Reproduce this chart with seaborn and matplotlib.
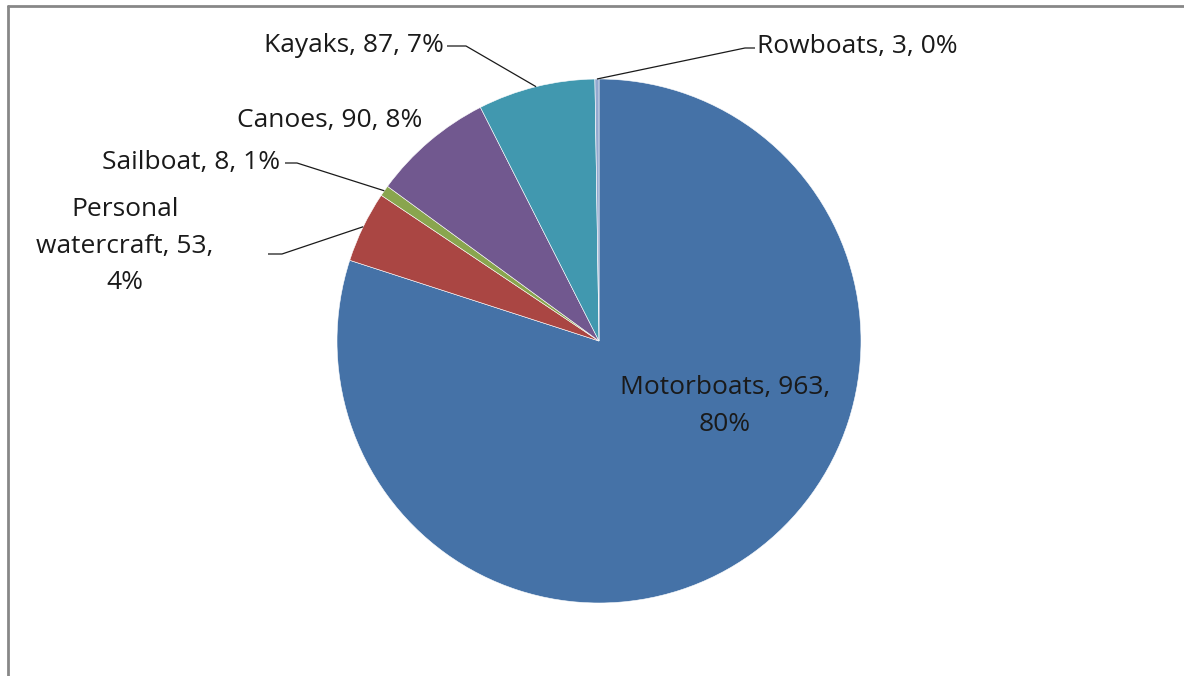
import numpy as np
import matplotlib
matplotlib.use("Agg")
import matplotlib.pyplot as plt
import seaborn as sns
from matplotlib.lines import Line2D

# Boat registrations by type
categories = ["Motorboats", "Personal watercraft", "Sailboat", "Canoes", "Kayaks", "Rowboats"]
counts = [963, 53, 8, 90, 87, 3]
label_texts = [
    "Motorboats, 963,\n80%",
    "Personal\nwatercraft, 53,\n4%",
    "Sailboat, 8, 1%",
    "Canoes, 90, 8%",
    "Kayaks, 87, 7%",
    "Rowboats, 3, 0%",
]
colors = ["#4572A7", "#AA4643", "#89A54E", "#71588F", "#4198AF", "#93A9CF"]

sns.set_theme(style="white")
plt.rcParams["font.family"] = ["Open Sans", "DejaVu Sans"]

W, H = 1184, 676
fig = plt.figure(figsize=(W / 100, H / 100), dpi=100)
ax = fig.add_axes([0, 0, 1, 1])

cx, cy, r = 599, H - 341, 262
wedges, _ = ax.pie(
    counts, colors=colors, startangle=90, counterclock=False,
    center=(cx, cy), radius=r, frame=True,
    wedgeprops=dict(edgecolor="white", linewidth=0.4),
)
ax.set_xlim(0, W)
ax.set_ylim(0, H)
ax.set_aspect("equal")
ax.axis("off")


def edge_point(w, frac=1.0):
    th = np.deg2rad((w.theta1 + w.theta2) / 2)
    return cx + frac * r * np.cos(th), cy + frac * r * np.sin(th)


fs = 19
txt = dict(fontsize=fs, color="#1a1a1a", linespacing=1.63)

# Labels inside / beside the slices
ax.text(725, H - 406, label_texts[0], ha="center", va="center", **txt)
ax.text(330, H - 120, label_texts[3], ha="center", va="center", **txt)

# Labels with leader lines
leaders = {
    1: dict(text_xy=(125, H - 246), ha="center", knee=(268, 282, H - 254)),
    2: dict(text_xy=(280, H - 163), ha="right", knee=(285, 297, H - 163)),
    4: dict(text_xy=(444, H - 46), ha="right", knee=(447, 466, H - 46)),
    5: dict(text_xy=(757, H - 46), ha="left", knee=(755, 745, H - 48)),
}
for i, spec in leaders.items():
    ax.text(spec["text_xy"][0], spec["text_xy"][1], label_texts[i],
            ha=spec["ha"], va="center", **txt)
    x0, x1, yk = spec["knee"]
    px, py = edge_point(wedges[i])
    ax.plot([x0, x1, px], [yk, yk, py], color="#1a1a1a", lw=0.9,
            solid_capstyle="butt")

# Chart-area border (top and left edges)
border = "#878787"
fig.add_artist(Line2D([8 / W, 1], [1 - 6 / H, 1 - 6 / H], color=border, lw=2,
                      transform=fig.transFigure))
fig.add_artist(Line2D([8 / W, 8 / W], [0, 1 - 6 / H], color=border, lw=2,
                      transform=fig.transFigure))

fig.savefig("out.png", dpi=100, facecolor="white")
